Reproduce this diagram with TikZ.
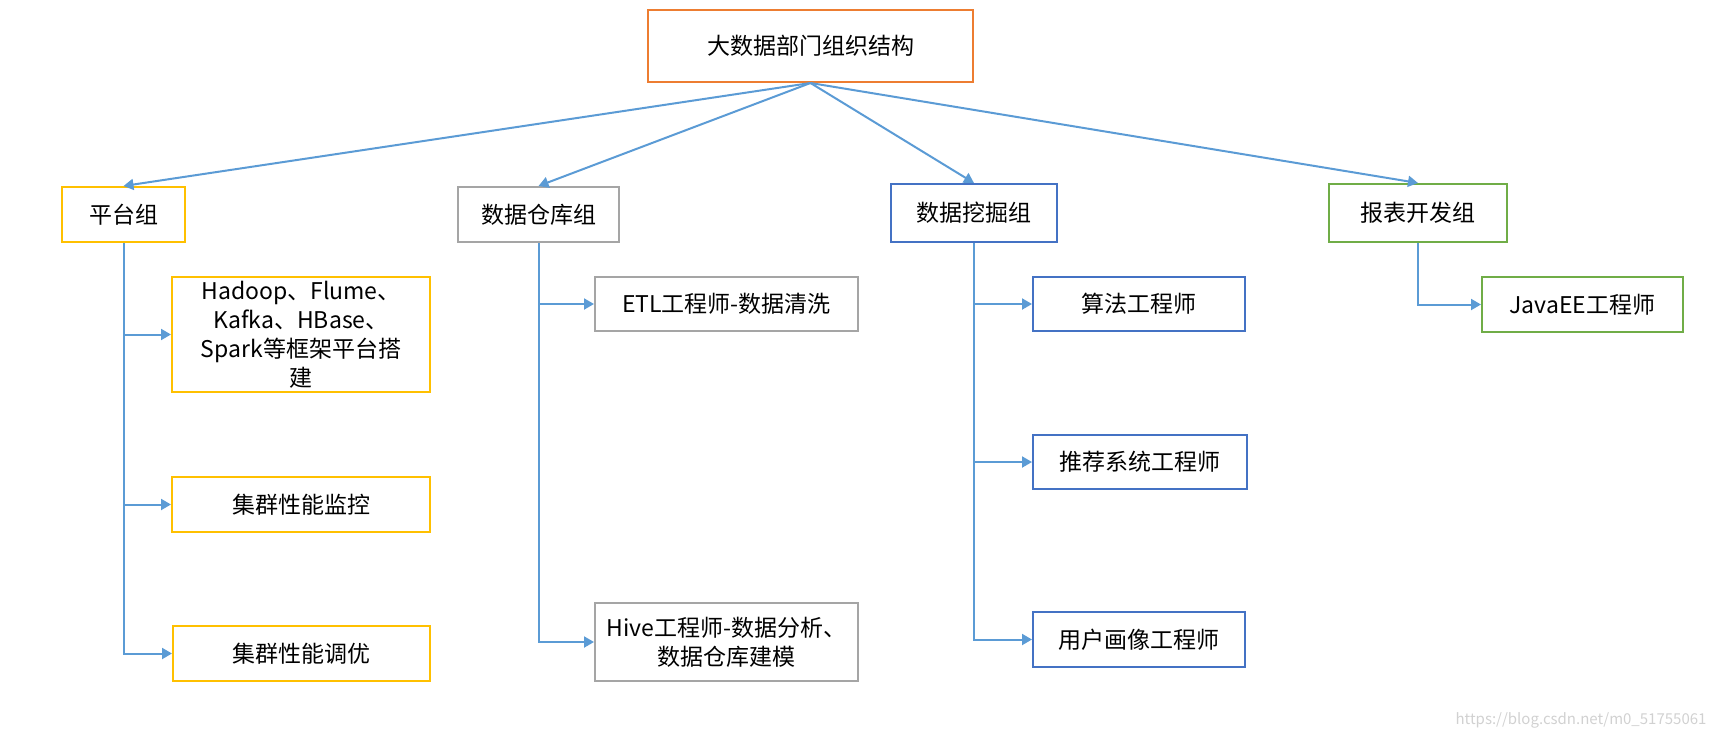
\documentclass[tikz,border=0pt]{standalone}
\usepackage{fontspec}
\setmainfont{Noto Sans CJK SC}
\usepackage{tikz}
\usetikzlibrary{arrows.meta}
\definecolor{colROOT}{RGB}{237,125,49}
\definecolor{colPT}{RGB}{255,192,0}
\definecolor{colCK}{RGB}{165,165,165}
\definecolor{colWJ}{RGB}{68,114,196}
\definecolor{colBB}{RGB}{112,173,71}
\definecolor{colLINE}{RGB}{91,155,213}
\tikzset{
  orgbox/.style={draw, line width=2pt, fill=white, inner sep=0pt, align=center},
  conn/.style={colLINE, line width=2pt, -{Triangle[length=10pt,width=11pt]}}
}

\begin{document}
\begin{tikzpicture}[x=1pt, y=-1pt, every node/.style={font=\fontsize{23}{29}\selectfont}]
      \useasboundingbox (0,0) rectangle (1717,739);
      % Root of the tree
      \node[orgbox, draw=colROOT, minimum width=325, minimum height=72] (root) at (810.5,46) {大数据部门组织结构};
      % The four groups
      \node[orgbox, draw=colPT, minimum width=123, minimum height=55] (pt) at (123.5,214.5) {平台组};
      \node[orgbox, draw=colCK, minimum width=161, minimum height=55] (ck) at (538.5,214.5) {数据仓库组};
      \node[orgbox, draw=colWJ, minimum width=166, minimum height=58] (wj) at (974,213) {数据挖掘组};
      \node[orgbox, draw=colBB, minimum width=178, minimum height=58] (bb) at (1418,213) {报表开发组};
      % Platform group jobs
      \node[orgbox, draw=colPT, minimum width=258, minimum height=115] (hadoop) at (301,334.5)
        {Hadoop、Flume、\\Kafka、HBase、\\Spark等框架平台搭\\建};
      \node[orgbox, draw=colPT, minimum width=258, minimum height=55] (jkong) at (301,504.5) {集群性能监控};
      \node[orgbox, draw=colPT, minimum width=257, minimum height=55] (tyou) at (301.5,653.5) {集群性能调优};
      % Warehouse group jobs
      \node[orgbox, draw=colCK, minimum width=263, minimum height=54] (etl) at (726.5,304) {ETL工程师-数据清洗};
      \node[orgbox, draw=colCK, minimum width=263, minimum height=78] (hive) at (726.5,642)
        {Hive工程师-数据分析、\\数据仓库建模};
      % Mining group jobs
      \node[orgbox, draw=colWJ, minimum width=212, minimum height=54] (sf) at (1139,304) {算法工程师};
      \node[orgbox, draw=colWJ, minimum width=214, minimum height=54] (tj) at (1140,462) {推荐系统工程师};
      \node[orgbox, draw=colWJ, minimum width=212, minimum height=55] (yh) at (1139,639.5) {用户画像工程师};
      % Report group job
      \node[orgbox, draw=colBB, minimum width=201, minimum height=55] (java) at (1582.5,304.5) {JavaEE工程师};
      % Root to groups
      \foreach \g in {pt,ck,wj,bb}{
        \draw[conn] (root.south) -- (\g.north);
      }
      % Groups to jobs
      \foreach \g/\c in {pt/hadoop,pt/jkong,pt/tyou,ck/etl,ck/hive,wj/sf,wj/tj,wj/yh,bb/java}{
        \draw[conn] (\g.south) |- (\c.west);
      }
      \node[text=black!18, font=\fontsize{15}{18}\selectfont, anchor=east] (mark) at (1710,720) {https://blog.csdn.net/m0\_51755061};
    \end{tikzpicture}
\end{document}
